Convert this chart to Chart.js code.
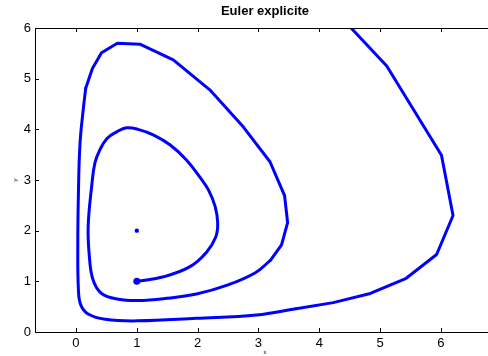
<!DOCTYPE html>
<html>
<head>
<meta charset="utf-8">
<script src="https://cdn.jsdelivr.net/npm/chart.js@4.4.0/dist/chart.umd.min.js"></script>
<style>
  html, body { margin: 0; padding: 0; overflow: hidden; background: #fff; }
  #wrap { width: 500px; height: 356px; }
</style>
</head>
<body>
<div id="wrap"><canvas id="chart" width="500" height="356"></canvas></div>
<script>
// trayectoria (x, y), empieza en (1,1)
const trajX = [1.00, 1.44, 1.875, 2.15, 2.30, 2.33, 2.29, 2.18, 2.04, 1.82, 1.55, 1.27, 1.02, 0.83, 0.67, 0.51, 0.39, 0.31, 0.26, 0.20, 0.22, 0.28, 0.42, 0.70, 1.02, 1.46, 1.98, 2.50, 2.95, 3.20, 3.38, 3.48, 3.43, 3.19, 2.75, 2.20, 1.60, 1.05, 0.68, 0.42, 0.27, 0.16, 0.12, 0.066, 0.04, 0.03, 0.04, 0.08, 0.20, 0.48, 1.02, 1.98, 2.97, 3.62, 4.23, 4.84, 5.43, 5.93, 6.20, 6.01, 5.11, 4.00];
const trajY = [1.00, 1.09, 1.29, 1.58, 1.88, 2.15, 2.47, 2.80, 3.05, 3.39, 3.69, 3.89, 4.00, 4.03, 3.95, 3.82, 3.59, 3.33, 2.90, 2.08, 1.49, 1.03, 0.76, 0.645, 0.62, 0.66, 0.75, 0.93, 1.17, 1.42, 1.72, 2.16, 2.69, 3.36, 4.05, 4.78, 5.37, 5.68, 5.70, 5.51, 5.20, 4.81, 4.40, 3.72, 2.74, 1.75, 0.83, 0.53, 0.355, 0.25, 0.22, 0.27, 0.335, 0.46, 0.58, 0.76, 1.06, 1.53, 2.30, 3.49, 5.25, 6.67];
// tramos: [desde, hasta, suavizado]
const segments = [[0, 29, 0.4], [29, 41, 0], [41, 53, 0.4], [53, 61, 0]];
const startPoint = [1, 1];
const equilibrium = [1, 2];
const xTicks = [0, 1, 2, 3, 4, 5, 6];
const yTicks = [0, 1, 2, 3, 4, 5, 6];
const xMin = -0.674, xMax = 6.89;
const yMin = 0, yMax = 6;
const titleText = 'Euler explicite';

const fontFam = '"Liberation Sans", Arial, Helvetica, sans-serif';

// ejes estilo MATLAB: caja, ticks hacia dentro, título y etiquetas
const framePlugin = {
  id: 'frame',
  afterDraw(chart) {
    const ctx = chart.ctx;
    const a = chart.chartArea;
    const xs = chart.scales.x, ys = chart.scales.y;
    ctx.save();
    ctx.strokeStyle = '#000';
    ctx.lineWidth = 1;
    ctx.beginPath();
    ctx.moveTo(a.left + 0.5, a.top);
    ctx.lineTo(a.left + 0.5, a.bottom + 0.5);
    ctx.lineTo(a.right + 0.5, a.bottom + 0.5);
    ctx.lineTo(a.right + 0.5, a.top + 0.5);
    ctx.lineTo(a.left, a.top + 0.5);
    xTicks.forEach(function(v) {
      const px = Math.round(xs.getPixelForValue(v)) + 0.5;
      ctx.moveTo(px, a.bottom); ctx.lineTo(px, a.bottom - 4);
      ctx.moveTo(px, a.top); ctx.lineTo(px, a.top + 4);
    });
    yTicks.forEach(function(v) {
      const py = Math.round(ys.getPixelForValue(v)) + 0.5;
      ctx.moveTo(a.left, py); ctx.lineTo(a.left + 4, py);
      ctx.moveTo(a.right, py); ctx.lineTo(a.right - 4, py);
    });
    ctx.stroke();

    ctx.fillStyle = '#000';
    ctx.textAlign = 'center';
    ctx.textBaseline = 'middle';
    ctx.font = 'bold 13px ' + fontFam;
    ctx.fillText(titleText, (a.left + a.right) / 2, 11);

    ctx.font = '6px ' + fontFam;
    ctx.fillText('x', (a.left + a.right) / 2, 352);
    ctx.translate(15, (a.top + a.bottom) / 2);
    ctx.rotate(-Math.PI / 2);
    ctx.fillText('y', 0, 0);
    ctx.restore();
  }
};

const lineSets = segments.map(function(seg) {
  const pts = [];
  for (let i = seg[0]; i <= seg[1]; i++) pts.push({ x: trajX[i], y: trajY[i] });
  return {
    data: pts,
    showLine: true,
    borderColor: '#0000ff',
    borderWidth: 3,
    borderJoinStyle: 'round',
    borderCapStyle: 'round',
    pointRadius: 0,
    tension: seg[2],
    clip: 0
  };
});

const ctx = document.getElementById('chart').getContext('2d');
const chart = new Chart(ctx, {
  type: 'scatter',
  data: {
    datasets: lineSets.concat([
      {
        label: 'inicio',
        data: [{ x: startPoint[0], y: startPoint[1] }],
        backgroundColor: '#0000ff',
        borderWidth: 0,
        pointRadius: 3.5
      },
      {
        label: 'equilibrio',
        data: [{ x: equilibrium[0], y: equilibrium[1] }],
        backgroundColor: '#0000ff',
        borderWidth: 0,
        pointRadius: 2.2
      }
    ])
  },
  options: {
    responsive: false,
    animation: false,
    layout: { padding: { left: 0, right: 5, top: 28, bottom: 0 } },
    plugins: {
      legend: { display: false },
      tooltip: { enabled: false },
      title: { display: false }
    },
    scales: {
      x: {
        type: 'linear',
        min: xMin,
        max: xMax,
        afterBuildTicks: function(s) { s.ticks = xTicks.map(function(v) { return { value: v }; }); },
        afterFit: function(s) { s.height = 24; },
        grid: { display: false, drawTicks: false },
        border: { display: false },
        ticks: { color: '#000', padding: 4, font: { family: fontFam, size: 13 } }
      },
      y: {
        type: 'linear',
        min: yMin,
        max: yMax,
        afterBuildTicks: function(s) { s.ticks = yTicks.map(function(v) { return { value: v }; }); },
        afterFit: function(s) { s.width = 35; },
        grid: { display: false, drawTicks: false },
        border: { display: false },
        ticks: { color: '#000', padding: 4, font: { family: fontFam, size: 13 } }
      }
    }
  },
  plugins: [framePlugin]
});
</script>
</body>
</html>
